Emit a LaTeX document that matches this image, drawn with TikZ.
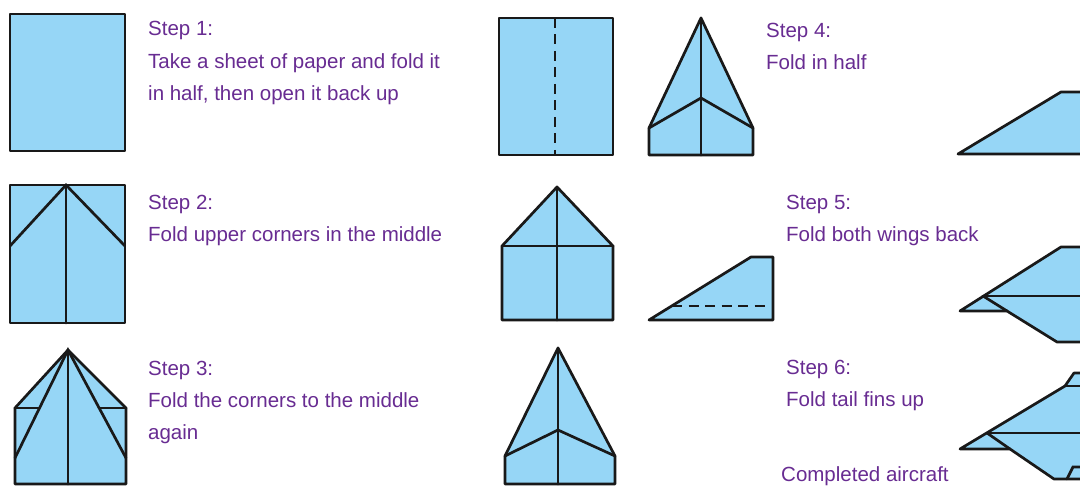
\documentclass[tikz,border=0pt]{standalone}
\usepackage{tikz}
\usepackage{fontspec}
\setmainfont{Liberation Sans}
\definecolor{sheet}{RGB}{150,214,246}
\definecolor{steptext}{RGB}{104,44,146}
\tikzset{paper/.style={fill=sheet, draw=black!90, line width=2.7pt, line join=round},
  crease/.style={draw=black!90, line width=2.7pt, line cap=round},
  foldline/.style={draw=black!90, line width=2.7pt, dash pattern=on 10pt off 6.5pt},
  caption/.style={anchor=base west, inner sep=0pt, align=left, text=steptext,
    font=\fontsize{20.5}{32.5}\selectfont}}

\begin{document}
\begin{tikzpicture}[x=1pt, y=-1pt]
      \clip (0, 0) rectangle (1080, 486);
      \fill [white] (0, 0) rectangle (1080, 486);

      % first column
      \draw [paper] (10, 14) rectangle (125, 151);

      \draw [paper] (10, 185) rectangle (125, 323);
      \draw [crease] (66, 185) -- (66, 323);
      \draw [crease] (10, 246) -- (66, 185) -- (125, 246);

      \draw [paper] (15, 484) -- (15, 408) -- (68, 350) -- (126, 408) -- (126, 484) -- cycle;
      \draw [crease] (68, 350) -- (68, 484);
      \draw [crease] (15, 458) -- (68, 350) -- (126, 458);
      \draw [crease] (15, 408) -- (39, 408);
      \draw [crease] (99, 408) -- (126, 408);

      % second column
      \draw [paper] (499, 18) rectangle (613, 155);
      \draw [foldline] (555, 18) -- (555, 155);

      \draw [paper] (502, 320) -- (502, 246) -- (557, 187) -- (613, 246) -- (613, 320) -- cycle;
      \draw [crease] (557, 187) -- (557, 320);
      \draw [crease] (502, 246) -- (613, 246);

      \draw [paper] (505, 484) -- (505, 456) -- (558, 348) -- (615, 456) -- (615, 484) -- cycle;
      \draw [crease] (558, 348) -- (558, 484);
      \draw [crease] (505, 456) -- (558, 430) -- (615, 456);

      % third column
      \draw [paper] (649, 155) -- (649, 128) -- (701, 18) -- (753, 128) -- (753, 155) -- cycle;
      \draw [crease] (701, 18) -- (701, 155);
      \draw [crease] (649, 128) -- (701, 98) -- (753, 128);

      \draw [paper] (649, 320) -- (751, 257) -- (773, 257) -- (773, 320) -- cycle;
      \draw [foldline] (672, 306) -- (771, 306);

      % side views, cut by the right edge
      \draw [paper] (958, 154) -- (1061, 92) -- (1095, 92) -- (1095, 154) -- cycle;

      \draw [paper] (960, 311) -- (1061, 247) -- (1095, 247) -- (1095, 342)
        -- (1057, 342) -- (1007, 311) -- cycle;
      \draw [crease] (983, 296) -- (1095, 296);
      \draw [crease] (983, 296) -- (1007, 311);

      \draw [paper] (960, 449) -- (1065, 386) -- (1074, 373) -- (1095, 373) -- (1095, 479)
        -- (1054, 479) -- (1010, 449) -- cycle;
      \draw [crease] (1065, 386) -- (1095, 386);
      \draw [crease] (987, 433) -- (1095, 433);
      \draw [crease] (987, 433) -- (1010, 449);
      \draw [crease] (1067, 479) -- (1073, 467) -- (1095, 467);

      % captions (anchored at the baseline of their last line)
      \node [caption] (s1) at (148, 101) {Step 1:\\Take a sheet of paper and fold it\\in half, then open it back up};
      \node [caption] (s2) at (148, 242) {Step 2:\\Fold upper corners in the middle};
      \node [caption] (s3) at (148, 440) {Step 3:\\Fold the corners to the middle\\again};
      \node [caption] (s4) at (766, 70) {Step 4:\\Fold in half};
      \node [caption] (s5) at (786, 242) {Step 5:\\Fold both wings back};
      \node [caption] (s6) at (786, 407) {Step 6:\\Fold tail fins up};
      \node [caption] (done) at (781, 482) {Completed aircraft};

    \end{tikzpicture}
\end{document}
